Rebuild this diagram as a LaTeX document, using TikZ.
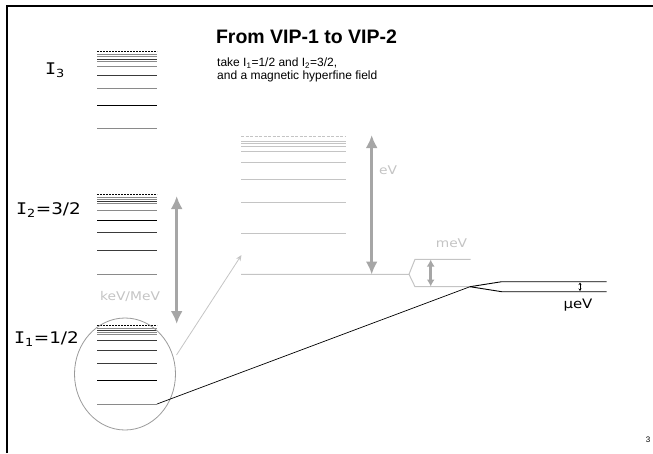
\documentclass[tikz,border=0pt]{standalone}
\usepackage{fontspec}
\setmainfont{Liberation Sans}
\newfontfamily\comic[FakeStretch=1.15]{DejaVu Sans}
\newfontfamily\comicI[FakeStretch=1.15]{DejaVu Sans Mono}
\usetikzlibrary{arrows.meta}
\definecolor{lvgray}{HTML}{8A8A8A}
\definecolor{lvdark}{HTML}{3A3A3A}
\definecolor{lvlight}{HTML}{C4C4C4}
\definecolor{arrgray}{HTML}{A6A6A6}
\definecolor{ellgray}{HTML}{9A9A9A}
\tikzset{
  lvl/.style={line width=0.85pt},
  bigarrow/.style={arrgray, line width=3pt, {Latex[length=13pt,width=12pt]}-{Latex[length=13pt,width=12pt]}},
  clabel/.style={inner sep=0pt, font=\comic\fontsize{16}{18}\selectfont},
  glabel/.style={inner sep=0pt, text=lvlight, font=\comic\fontsize{12}{14}\selectfont},
}
\begin{document}
\begin{tikzpicture}[x=1pt,y=-1pt]
\useasboundingbox (0,0) rectangle (653,453);
% frame
\draw[line width=2.3pt] (7.2,453) -- (7.2,6.2) -- (653,6.2);

% I3 levels
\draw[dashed,dash pattern=on 2pt off 1pt, line width=0.7pt] (97,51.7) -- (157,51.7);
\foreach \y/\c in {54.7/lvgray,56.7/lvgray,59/lvdark,61/lvgray,66/lvgray,75.7/lvdark,88.3/lvgray,105.3/black,128.7/lvgray}
  \draw[lvl,\c] (97,\y) -- (157,\y);
% I2 levels
\draw[dashed,dash pattern=on 2pt off 1pt, line width=0.7pt] (97,194.7) -- (157,194.7);
\foreach \y/\c in {197.7/lvgray,199.5/lvgray,201.4/lvdark,203.3/lvgray,210/lvgray,220/black,232.7/lvdark,250/lvdark,274/lvgray}
  \draw[lvl,\c] (97,\y) -- (157,\y);
% I1 levels
\draw[dashed,dash pattern=on 2pt off 1pt, line width=0.7pt] (97,325.7) -- (157,325.7);
\foreach \y/\c in {328/lvgray,330/lvdark,332/lvgray,334.7/lvgray,340.7/lvdark,350/lvdark,363.3/lvdark,380/black}
  \draw[lvl,\c] (97,\y) -- (157,\y);
\draw[lvl,lvgray] (97,404) coordinate (i1a) -- (157,404) coordinate (i1low);

% ellipse
\draw[ellgray, line width=0.8pt] (125,374) ellipse [x radius=50.5, y radius=56];
\coordinate (ellpt) at (176.5,355);

% middle (eV) group, light grey
\draw[lvlight, line width=1pt, dashed, dash pattern=on 3pt off 1.5pt] (241,136) -- (346,136);
\foreach \y in {141.7,143.7,146,151.3,162,179,202.3,233.3}
  \draw[lvlight, line width=1pt] (241,\y) -- (346,\y);
\coordinate (gnd) at (241,274.3);
\coordinate (gsplit) at (409,274.3);
\coordinate (mup) at (415,259.3);
\coordinate (mlow) at (415,286.7);
\coordinate (mupend) at (470.5,259.3);
\coordinate (split) at (470,286.7);
\draw[lvlight, line width=1pt] (gnd) -- (gsplit) -- (mup) -- (mupend);
\draw[lvlight, line width=1pt] (gsplit) -- (mlow) -- (split);

% black muev lines
\coordinate (uup) at (501.7,281.7);
\coordinate (ulow) at (501.7,291.7);
\coordinate (uupend) at (606.7,281.7);
\coordinate (ulowend) at (606.7,291.7);
\draw[line width=0.9pt] (split) -- (uup) -- (uupend);
\draw[line width=0.9pt] (split) -- (ulow) -- (ulowend);
\draw[line width=0.5pt, {Stealth[length=2.5pt,width=3pt]}-{Stealth[length=2.5pt,width=3pt]}] (580,282.5) -- (580,291);

% connectors
\draw[line width=0.7pt] (i1low) -- (split);
\coordinate (gtip) at (241.5,255);
\draw[lvlight, line width=0.8pt, -{Stealth[length=6pt,width=5pt]}] (ellpt) -- (gtip);

% big arrows
\draw[bigarrow] (176.7,196) -- (176.7,324);
\draw[bigarrow] (371.7,135) -- (371.7,274.5);
\draw[arrgray, line width=2.5pt, {Latex[length=7pt,width=8pt]}-{Latex[length=7pt,width=8pt]}] (430.7,259.5) -- (430.7,286.5);

% labels
\node[clabel] (li3) at (55,70) {{\comicI I}\textsubscript{3}};
\node[clabel] (li2) at (48.5,210) {{\comicI I}\textsubscript{2}=3/2};
\node[clabel] (li1) at (46.5,339) {{\comicI I}\textsubscript{1}=1/2};
\node[glabel] (lkev) at (130,296) {keV/MeV};
\node[glabel] (lev) at (388,170) {eV};
\node[glabel] (lmev) at (451.5,243) {meV};
\node[inner sep=0pt, font=\comic\fontsize{13}{15}\selectfont] (luev) at (578,305) {μeV};

\node[inner sep=0pt, font=\bfseries\fontsize{19.5}{22}\selectfont] (title) at (306.5,37) {From VIP-1 to VIP-2};
\node[inner sep=0pt, anchor=north west, align=left, font=\fontsize{12}{13}\selectfont] (sub) at (217,57.5)
  {take I\textsubscript{1}=1/2 and I\textsubscript{2}=3/2,\\and a magnetic hyperfine field};
\node[inner sep=0pt, font=\fontsize{8}{9}\selectfont] (pnum) at (648,440) {3};
\end{tikzpicture}
\end{document}
